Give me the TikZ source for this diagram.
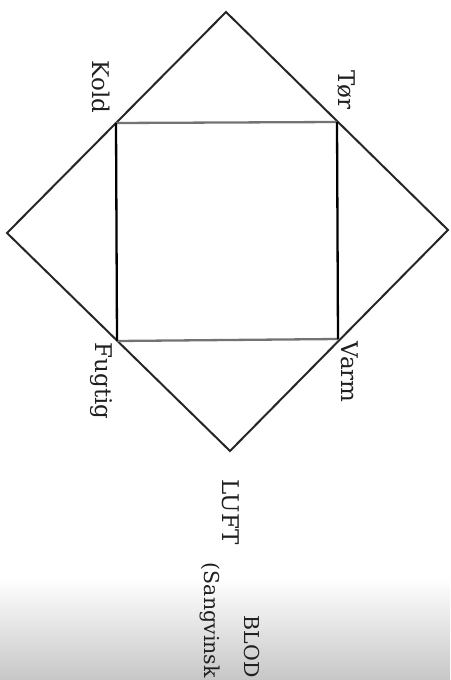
\documentclass[tikz,border=0pt]{standalone}
\usepackage{fontspec}
\setmainfont{DejaVu Serif}
\begin{document}
\begin{tikzpicture}[x=1pt,y=-1pt,
  diam/.style={draw=black!85,line width=2pt,line join=miter},
  sqv/.style={draw=black,line width=2.3pt},
  sqh/.style={draw=black!55,line width=2.3pt},
  lbl/.style={rotate=-90,inner sep=0pt,text=black!88,font=\fontsize{23}{26}\selectfont},
  lbls/.style={lbl,font=\fontsize{20.5}{24}\selectfont}]
\useasboundingbox (0,0) rectangle (450,680);
\shade[top color=white,bottom color=black!22] (0,578) rectangle (450,680);
% diamond corners
\coordinate (T) at (226,12);
\coordinate (R) at (448,230);
\coordinate (B) at (230,451);
\coordinate (L) at (7,233);
% square corners
\coordinate (TL) at (116,123);
\coordinate (TR) at (337,122);
\coordinate (BR) at (338,339);
\coordinate (BL) at (117,341);
\draw[diam] (T) -- (R) -- (B) -- (L) -- cycle;
\draw[sqh] (TL) -- (TR);
\draw[sqh] (BL) -- (BR);
\draw[sqv] (TL) -- (BL);
\draw[sqv] (TR) -- (BR);
% labels
\node[lbl] (kold) at (101,87) {Kold};
\node[lbl] (tor) at (346,90) {Tør};
\node[lbl] (fugtig) at (101,381) {Fugtig};
\node[lbl] (varm) at (350,372) {Varm};
\node[lbl] (luft) at (231,512) {LUFT};
\node[lbls,anchor=base east] (sang) at (204,678) {(Sangvinsk};
\node[lbls,anchor=base east] (blod) at (244,678) {BLOD};
\end{tikzpicture}
\end{document}
